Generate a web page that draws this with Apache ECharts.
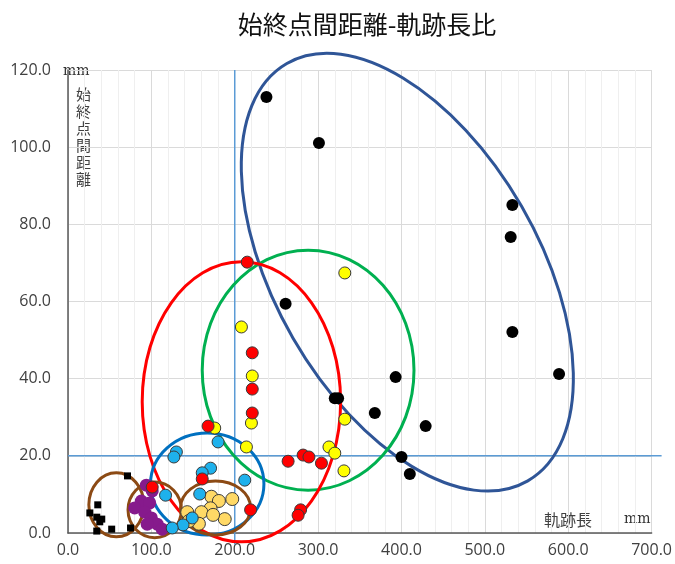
<!DOCTYPE html>
<html>
<head>
<meta charset="utf-8">
<script src="https://cdn.jsdelivr.net/npm/echarts@6/dist/echarts.min.js"></script>
<style>
html, body { margin: 0; padding: 0; background: #fff; }
#echarts-main { width: 675px; height: 564px; }
</style>
</head>
<body>
<div id="echarts-main"></div>
<script>
// 軌跡長 (mm) , 始終点間距離 (mm)
var blackDots = [[238,113.0],[301,101.1],[533,85.0],[531,76.7],[533,52.1],[589,41.2],[261,59.4],
    [320,34.9],[324,34.9],[368,31.1],[393,40.4],[429,27.7],[400,19.7],[410,15.3]];
var redDots = [[215,70.2],[221,46.7],[221,37.3],[221,31.1],[168,27.7],[264,18.6],[282,20.2],
    [289,19.7],[304,18.1],[279,6.0],[276,4.6],[161,14.0],[101,11.9],[219,6.0]];
var yellowDots = [[332,67.4],[208,53.4],[221,40.7],[220,28.5],[176,27.2],[214,22.3],[332,29.5],
    [313,22.3],[320,20.7],[331,16.1]];
var cyanDots = [[180,23.6],[130,21.0],[127,19.7],[171,16.8],[161,15.6],[212,13.7],[158,10.1],
    [117,9.8],[149,3.9],[138,2.1],[125,1.3]];
var goldDots = [[172,9.4],[181,8.3],[197,8.8],[171,6.4],[160,5.4],[143,5.4],[157,2.4],[188,3.6],
    [174,4.7],[145,3.1]];
var purpleDots = [[94,12.4],[101,10.9],[88,8.3],[80,6.5],[98,7.8],[92,5.4],[100,3.9],[107,2.3],
    [113,1.0],[95,2.3]];
var blackSquares = [[71.4,14.8],[35.7,7.3],[26.2,5.2],[34.5,4.1],[40.5,3.6],[38.1,2.9],[34.5,0.5],
    [52.4,1.0],[75,1.3]];

// 楕円: 中心x, 中心y, 半径(x単位), 半径(y単位), 回転(度)
var ellipses = [
    [407, 67.6, 289, 34.2, -60],
    [288, 42.2, 127, 31.1, 0],
    [208, 34.0, 119, 36.3, 0],
    [167, 12.7, 68, 13.2, 0],
    [58, 7.3, 33, 8.3, 0],
    [104, 6.0, 32, 7.2, 0],
    [177, 6.5, 42, 7.0, 0]
];
var ellipseColors = ['#2f5597', '#00b050', '#ff0000', '#0070c0', '#8c4a14', '#8c4a14', '#8c4a14'];

// 基準線: x1, y1, x2, y2
var refLines = [[200, 120, 200, -3], [0, 20, 712, 20]];

var xTicks = [0, 700, 100];
var yTicks = [0, 120, 20];

var myChart = echarts.init(document.getElementById('echarts-main'));

function dots(data, color, border, size, symbol) {
    return {
        type: 'scatter',
        data: data,
        symbol: symbol || 'circle',
        symbolSize: size,
        z: 5,
        itemStyle: {
            color: color,
            borderColor: border ? '#3a3a3a' : color,
            borderWidth: border ? 1 : 0,
            opacity: 1
        }
    };
}

var option = {
    backgroundColor: '#fff',
    animation: false,
    title: {
        text: '始終点間距離-軌跡長比',
        left: 362,
        textAlign: 'center',
        top: 7,
        textStyle: { fontFamily: 'Noto Sans CJK JP', fontSize: 25, fontWeight: 'normal', color: '#111' }
    },
    grid: { left: 68, right: 19, top: 70, bottom: 31 },
    xAxis: {
        type: 'value',
        min: xTicks[0], max: xTicks[1], interval: xTicks[2],
        axisLine: { lineStyle: { color: '#595959', width: 1.5 } },
        axisTick: { show: false },
        axisLabel: {
            margin: 9,
            color: '#404040', fontFamily: 'Open Sans', fontSize: 16,
            formatter: function (v) { return v.toFixed(1); }
        },
        splitLine: { show: true, lineStyle: { color: '#dadada', width: 1 } },
        minorTick: { show: false, splitNumber: 5 },
        minorSplitLine: { show: true, lineStyle: { color: '#efefef', width: 1 } }
    },
    yAxis: {
        type: 'value',
        min: yTicks[0], max: yTicks[1], interval: yTicks[2],
        axisLine: { show: true, lineStyle: { color: '#595959', width: 1.5 } },
        axisTick: { show: false },
        axisLabel: {
            margin: 17,
            color: '#404040', fontFamily: 'Open Sans', fontSize: 16,
            formatter: function (v) { return v.toFixed(1); }
        },
        splitLine: { show: true, lineStyle: { color: '#dadada', width: 1 } }
    },
    graphic: [
        { type: 'text', left: 63, top: 64, style: { text: 'mm', fontFamily: 'DejaVu Serif', fontSize: 14, fill: '#333' } },
        { type: 'text', left: 76, top: 86, style: { text: '始\n終\n点\n間\n距\n離', fontFamily: 'Noto Sans CJK JP', fontSize: 15, lineHeight: 17, fill: '#404040' } },
        { type: 'text', left: 544, top: 512, style: { text: '軌跡長', fontFamily: 'Noto Sans CJK JP', fontSize: 16, fill: '#404040' } },
        { type: 'text', left: 624, top: 512, style: { text: 'mm', fontFamily: 'DejaVu Serif', fontSize: 14, fill: '#333' } }
    ],
    series: [
        {
            type: 'custom',
            clip: false,
            z: 3,
            data: refLines,
            renderItem: function (params, api) {
                var p1 = api.coord([api.value(0), api.value(1)]);
                var p2 = api.coord([api.value(2), api.value(3)]);
                return {
                    type: 'line',
                    shape: { x1: p1[0], y1: p1[1], x2: p2[0], y2: p2[1] },
                    style: { stroke: '#5b9bd5', lineWidth: 1.5 }
                };
            }
        },
        {
            type: 'custom',
            clip: false,
            z: 4,
            data: ellipses,
            renderItem: function (params, api) {
                var c = api.coord([api.value(0), api.value(1)]);
                var rx = api.size([api.value(2), 0])[0];
                var ry = api.size([0, api.value(3)])[1];
                return {
                    type: 'ellipse',
                    x: c[0], y: c[1],
                    rotation: api.value(4) * Math.PI / 180,
                    shape: { cx: 0, cy: 0, rx: rx, ry: ry },
                    style: { fill: 'none', stroke: ellipseColors[params.dataIndex], lineWidth: 3 }
                };
            }
        },
        dots(blackSquares, '#000', false, 7, 'rect'),
        dots(purpleDots, '#861a8c', false, 13),
        dots(goldDots, '#ffd966', true, 13),
        dots(cyanDots, '#1eb1ec', true, 12),
        dots(yellowDots, '#ffff00', true, 12),
        dots(redDots, '#ff0000', true, 12),
        dots(blackDots, '#000', false, 12)
    ]
};

myChart.setOption(option);
</script>
</body>
</html>
